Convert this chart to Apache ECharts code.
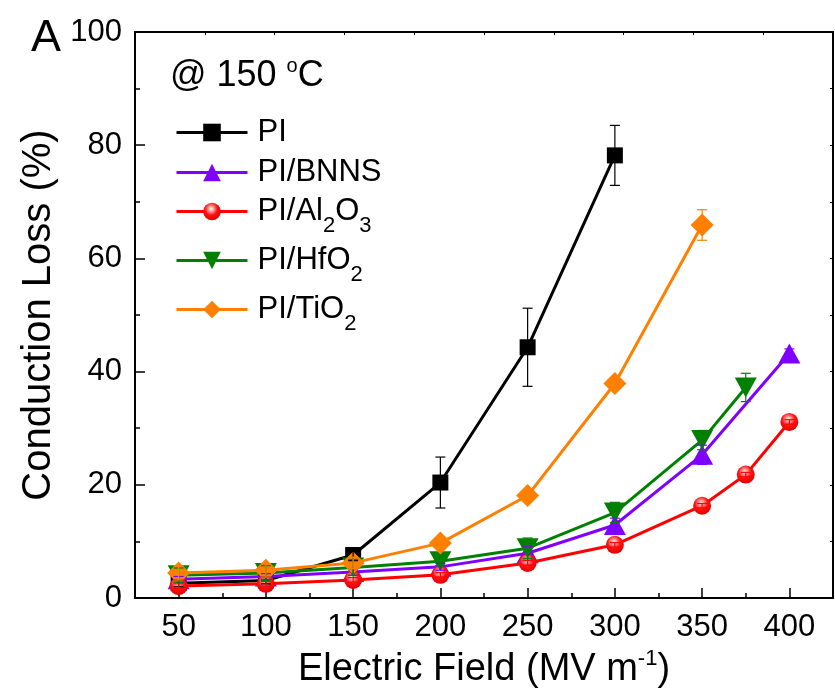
<!DOCTYPE html>
<html>
<head>
<meta charset="utf-8">
<script src="https://cdn.jsdelivr.net/npm/echarts@6/dist/echarts.min.js"></script>
<style>
html, body { margin: 0; padding: 0; background: #fff; }
#chart { width: 835px; height: 695px; }
</style>
</head>
<body>
<div id="chart"></div>
<script>
var FONT = "'Liberation Sans', Arial, sans-serif";

// ---- data ----
var seriesNames = ['PI', 'PI/BNNS', 'PI/Al2O3', 'PI/HfO2', 'PI/TiO2'];

var fieldPI = [50, 100, 150, 200, 250, 300];
var lossPI = [2.6, 3.1, 7.6, 20.4, 44.3, 78.2];
var errPI = [0.6, 0.6, 1.0, 4.5, 6.9, 5.3];

var fieldBNNS = [50, 100, 150, 200, 250, 300, 350, 400];
var lossBNNS = [3.3, 3.8, 4.6, 5.5, 7.9, 12.9, 25.3, 43.2];
var errBNNS = [0.5, 0.5, 0.6, 0.6, 1.2, 1.2, 1.7, 0.8];

var fieldAl = [50, 100, 150, 200, 250, 300, 350, 375, 400];
var lossAl = [2.1, 2.5, 3.2, 4.1, 6.2, 9.4, 16.3, 21.8, 31.1];
var errAl = [0.4, 0.4, 0.4, 0.4, 0.4, 0.4, 0.4, 0.4, 0.4];

var fieldHf = [50, 100, 150, 200, 250, 300, 350, 375];
var lossHf = [4.0, 4.4, 5.4, 6.5, 8.8, 15.1, 27.9, 37.2];
var errHf = [1.3, 1.3, 1.4, 0.8, 1.8, 1.8, 1.7, 2.5];

var fieldTi = [50, 100, 150, 200, 250, 300, 350];
var lossTi = [4.4, 4.9, 6.2, 9.7, 18.1, 37.9, 65.9];
var errTi = [1.2, 1.2, 1.0, 0.4, 1.0, 0.5, 2.7];

// tick labels
var xTickValues = [50, 100, 150, 200, 250, 300, 350, 400];
var xMinorTickValues = [75, 125, 175, 225, 275, 325, 375];
var xTopTickValues = [65, 105, 145, 185, 225, 265, 305, 345, 385];

// ---- helpers ----
function zip(xs, ys) {
    var out = [];
    for (var i = 0; i < xs.length; i++) out.push([xs[i], ys[i]]);
    return out;
}

function errRows(xs, ys, es) {
    var out = [];
    for (var i = 0; i < xs.length; i++) out.push([xs[i], ys[i] - es[i], ys[i] + es[i]]);
    return out;
}

function renderErr(params, api) {
    var x = api.value(0);
    var p1 = api.coord([x, api.value(1)]);
    var p2 = api.coord([x, api.value(2)]);
    var w = 5;
    var st = { stroke: api.visual('color'), lineWidth: 1.2 };
    return {
        type: 'group',
        children: [
            { type: 'line', shape: { x1: p1[0], y1: p1[1], x2: p2[0], y2: p2[1] }, style: st },
            { type: 'line', shape: { x1: p1[0] - w, y1: p1[1], x2: p1[0] + w, y2: p1[1] }, style: st },
            { type: 'line', shape: { x1: p2[0] - w, y1: p2[1], x2: p2[0] + w, y2: p2[1] }, style: st }
        ]
    };
}

// subscripted legend names, e.g. PI/Al2O3
function richName(name) {
    var parts = name.match(/\d+|\D+/g);
    return parts.map(function (p, i) {
        if (/\d/.test(p)) return '{s|' + p + '}';
        return '{' + (i === 0 ? 'f' : 'm') + '|' + p + '}';
    }).join('');
}

var redBall = new echarts.graphic.RadialGradient(0.45, 0.35, 0.65, [
    { offset: 0, color: '#ffffff' },
    { offset: 0.22, color: '#ffa0a0' },
    { offset: 0.55, color: '#ff1010' },
    { offset: 1, color: '#e00000' }
]);

var styles = [
    { color: '#000000', fill: '#000000', symbol: 'rect', size: 16, rotate: 0 },
    { color: '#8000ff', fill: '#8000ff', symbol: 'triangle', size: [22, 20], rotate: 0 },
    { color: '#ff0000', fill: redBall, symbol: 'circle', size: 18, rotate: 0 },
    { color: '#008000', fill: '#008000', symbol: 'triangle', size: [22, 20], rotate: 180 },
    { color: '#ff8000', fill: '#ff8000', symbol: 'diamond', size: 23, rotate: 0 }
];
var xs = [fieldPI, fieldBNNS, fieldAl, fieldHf, fieldTi];
var ys = [lossPI, lossBNNS, lossAl, lossHf, lossTi];
var es = [errPI, errBNNS, errAl, errHf, errTi];

var series = [];
seriesNames.forEach(function (name, i) {
    var s = styles[i];
    series.push({
        name: name,
        type: 'line',
        data: zip(xs[i], ys[i]),
        symbol: s.symbol,
        symbolSize: s.size,
        symbolRotate: s.rotate,
        lineStyle: { color: s.color, width: 3 },
        itemStyle: { color: s.fill, borderWidth: 0 },
        z: 2 + i
    });
});
seriesNames.forEach(function (name, i) {
    series.push({
        name: name + ' err',
        type: 'custom',
        renderItem: renderErr,
        data: errRows(xs[i], ys[i], es[i]),
        encode: { x: 0, y: [1, 2] },
        itemStyle: { color: styles[i].color },
        silent: true,
        z: 10
    });
});

// legend rows (centre y of each row)
var legendRowY = [131, 171, 210, 259, 308];
var legendText = {
    fontFamily: FONT,
    color: '#000',
    rich: {
        f: { fontFamily: FONT, fontSize: 31, lineHeight: 50, color: '#000', padding: [0, 0, 0, 5] },
        m: { fontFamily: FONT, fontSize: 31, lineHeight: 50, color: '#000' },
        s: { fontFamily: FONT, fontSize: 22, lineHeight: 25, color: '#000', verticalAlign: 'bottom' }
    }
};
var legends = seriesNames.map(function (name, i) {
    return {
        data: [name],
        left: 175,
        top: legendRowY[i] - 14,
        padding: 0,
        itemWidth: 71,
        itemHeight: 22,
        selectedMode: false,
        lineStyle: { width: 3 },
        textStyle: legendText,
        formatter: richName
    };
});

var axisLine = { show: true, lineStyle: { color: '#000', width: 2 } };

var option = {
    animation: false,
    backgroundColor: '#fff',
    textStyle: { fontFamily: FONT },
    grid: { left: 135, right: 2, top: 32, bottom: 97 },
    legend: legends,
    graphic: [
        {
            type: 'text', x: 31, y: 39,
            style: {
                text: '{a|A}',
                align: 'left', verticalAlign: 'middle', fill: '#000',
                rich: { a: { fontFamily: FONT, fontSize: 45, lineHeight: 50, fill: '#000' } }
            }
        },
        {
            type: 'text', x: 170, y: 76,
            style: {
                text: '{m|@ 150 }{u|o}{m|C}',
                align: 'left', verticalAlign: 'middle', fill: '#000',
                rich: {
                    m: { fontFamily: FONT, fontSize: 36, lineHeight: 40, fill: '#000' },
                    u: { fontFamily: FONT, fontSize: 20, lineHeight: 26, fill: '#000', verticalAlign: 'top' }
                }
            }
        }
    ],
    xAxis: [
        {
            type: 'value', min: 25, max: 425, position: 'bottom',
            axisLine: axisLine,
            axisTick: { show: true, inside: true, length: 10, customValues: xTickValues, lineStyle: { color: '#000', width: 1.5 } },
            axisLabel: { show: true, customValues: xTickValues, margin: 14, fontSize: 31, color: '#000', fontFamily: FONT },
            splitLine: { show: false },
            name: '{m|Electric Field (MV m}{u|-1}{m|)}',
            nameLocation: 'middle',
            nameGap: 50,
            nameTextStyle: {
                rich: {
                    m: { fontFamily: FONT, fontSize: 38, lineHeight: 44, color: '#000' },
                    u: { fontFamily: FONT, fontSize: 22, lineHeight: 26, color: '#000', verticalAlign: 'top' }
                }
            }
        },
        {
            type: 'value', min: 25, max: 425, position: 'bottom',
            axisLine: { show: false },
            axisTick: { show: true, inside: true, length: 5, customValues: xMinorTickValues, lineStyle: { color: '#000', width: 1.5 } },
            axisLabel: { show: false },
            splitLine: { show: false }
        },
        {
            type: 'value', min: 25, max: 425, position: 'top',
            axisLine: axisLine,
            axisTick: { show: true, inside: true, length: 3, customValues: xTopTickValues, lineStyle: { color: '#000', width: 1 } },
            axisLabel: { show: false },
            splitLine: { show: false }
        }
    ],
    yAxis: [
        {
            type: 'value', min: 0, max: 100, interval: 20, position: 'left',
            axisLine: axisLine,
            axisTick: { show: true, inside: true, length: 10, lineStyle: { color: '#000', width: 1.5 } },
            minorTick: { show: true, splitNumber: 2, length: 5, lineStyle: { color: '#000', width: 1.5 } },
            axisLabel: { margin: 13, fontSize: 31, color: '#000', fontFamily: FONT },
            splitLine: { show: false },
            name: 'Conduction Loss (%)',
            nameLocation: 'middle',
            nameGap: 65,
            nameTextStyle: { fontFamily: FONT, fontSize: 40, color: '#000' }
        },
        {
            type: 'value', min: 0, max: 100, interval: 10, position: 'right',
            axisLine: axisLine,
            axisTick: { show: true, inside: true, length: 3, lineStyle: { color: '#000', width: 1 } },
            axisLabel: { show: false },
            splitLine: { show: false }
        }
    ],
    series: series
};

var myChart = echarts.init(document.getElementById('chart'), null, { renderer: 'canvas' });
myChart.setOption(option);
</script>
</body>
</html>
